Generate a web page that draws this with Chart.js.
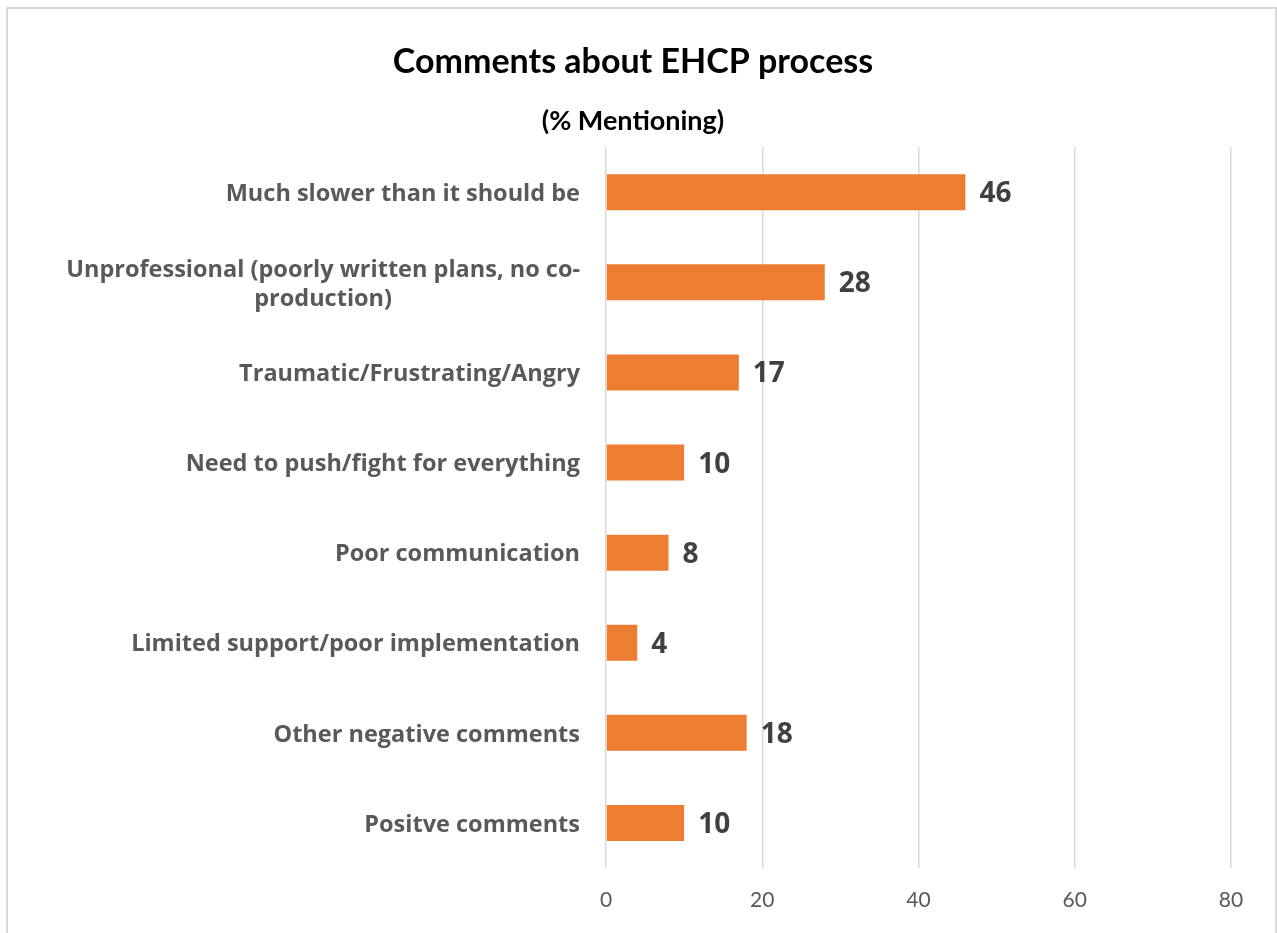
<!DOCTYPE html>
<html>
<head>
<meta charset="utf-8">
<script src="https://cdn.jsdelivr.net/npm/chart.js@4"></script>
<style>
  html, body { margin: 0; padding: 0; background: #ffffff; overflow: hidden; }
  #wrap { width: 1277px; height: 933px; position: relative; }
</style>
</head>
<body>
<div id="wrap"><canvas id="c"></canvas></div>
<script>
// Categories (multi-line entries are arrays of lines)
const categories = [
  'Much slower than it should be',
  ['Unprofessional (poorly written plans, no co-', 'production)'],
  'Traumatic/Frustrating/Angry',
  'Need to push/fight for everything',
  'Poor communication',
  'Limited support/poor implementation',
  'Other negative comments',
  'Positve comments'
];
// % mentioning each theme
const mentionPct = [46, 28, 17, 10, 8, 4, 18, 10];
const axisMin = 0;
const axisMax = 80;
const axisStep = 20;

const FONT = 'Lato, "Open Sans", sans-serif';
const LABEL_FONT = '"Open Sans", Lato, sans-serif';
const LABEL_COLOR = '#595959';
const VALUE_COLOR = '#404040';
const BAR_COLOR = '#ED7D31';
const PAD_LEFT = 35;
const PLOT_LEFT = 606;

// Frame and white background
const framePlugin = {
  id: 'frame',
  beforeDraw(chart) {
    const ctx = chart.ctx;
    ctx.save();
    ctx.fillStyle = '#ffffff';
    ctx.fillRect(0, 0, chart.width, chart.height);
    ctx.strokeStyle = '#d9d9d9';
    ctx.lineWidth = 2;
    ctx.strokeRect(7, 8, chart.width - 8, chart.height + 20);
    ctx.restore();
  }
};

// Category labels: right edge fixed, lines centred on each other
const categoryLabelPlugin = {
  id: 'categoryLabels',
  afterDraw(chart) {
    const ctx = chart.ctx;
    const y = chart.scales.y;
    const rightEdge = chart.chartArea.left - 26;
    const lineH = 29;
    ctx.save();
    ctx.font = 'bold 23.5px ' + LABEL_FONT;
    ctx.fillStyle = LABEL_COLOR;
    ctx.textBaseline = 'middle';
    ctx.textAlign = 'center';
    chart.data.labels.forEach((lab, i) => {
      const lines = Array.isArray(lab) ? lab : [lab];
      const widest = Math.max(...lines.map(l => ctx.measureText(l).width));
      const cx = rightEdge - widest / 2;
      const cy = y.getPixelForTick(i);
      const startY = cy - (lines.length - 1) * lineH / 2 + 2;
      lines.forEach((l, k) => ctx.fillText(l, cx, startY + k * lineH));
    });
    ctx.restore();
  }
};

// Value labels at the end of each bar
const valueLabelPlugin = {
  id: 'valueLabels',
  afterDatasetsDraw(chart) {
    const ctx = chart.ctx;
    const meta = chart.getDatasetMeta(0);
    const ds = chart.data.datasets[0].data;
    ctx.save();
    ctx.font = 'bold 28px ' + LABEL_FONT;
    ctx.fillStyle = VALUE_COLOR;
    ctx.textBaseline = 'middle';
    ctx.textAlign = 'left';
    meta.data.forEach((bar, i) => {
      const x = chart.scales.x.getPixelForValue(ds[i]);
      ctx.fillText(String(ds[i]), x + 14, bar.y + 2);
    });
    ctx.restore();
  }
};

new Chart(document.getElementById('c'), {
  type: 'bar',
  data: {
    labels: categories,
    datasets: [{
      data: mentionPct,
      backgroundColor: BAR_COLOR,
      borderWidth: 0,
      categoryPercentage: 1.0,
      barPercentage: 0.4
    }]
  },
  options: {
    indexAxis: 'y',
    responsive: true,
    maintainAspectRatio: false,
    animation: false,
    layout: { padding: { top: 42, left: PAD_LEFT, right: 46, bottom: 0 } },
    plugins: {
      legend: { display: false },
      tooltip: { enabled: false },
      title: {
        display: true,
        text: 'Comments about EHCP process',
        color: '#000000',
        font: { family: FONT, size: 34, weight: 'bold', lineHeight: 1.2 },
        padding: { top: 0, bottom: 0 }
      },
      subtitle: {
        display: true,
        text: '(% Mentioning)',
        color: '#000000',
        font: { family: FONT, size: 27, weight: 'bold', lineHeight: 1.2 },
        padding: { top: 22, bottom: 10 }
      }
    },
    scales: {
      x: {
        min: axisMin,
        max: axisMax,
        ticks: {
          stepSize: axisStep,
          color: LABEL_COLOR,
          font: { family: FONT, size: 21 },
          padding: 20
        },
        grid: { color: '#d9d9d9', lineWidth: 1.5, drawTicks: false },
        border: { display: false },
        afterFit(scale) { scale.height = 65; }
      },
      y: {
        ticks: { display: false },
        grid: { display: false },
        border: { display: false },
        afterFit(scale) { scale.width = PLOT_LEFT - PAD_LEFT; }
      }
    }
  },
  plugins: [framePlugin, categoryLabelPlugin, valueLabelPlugin]
});
</script>
</body>
</html>
